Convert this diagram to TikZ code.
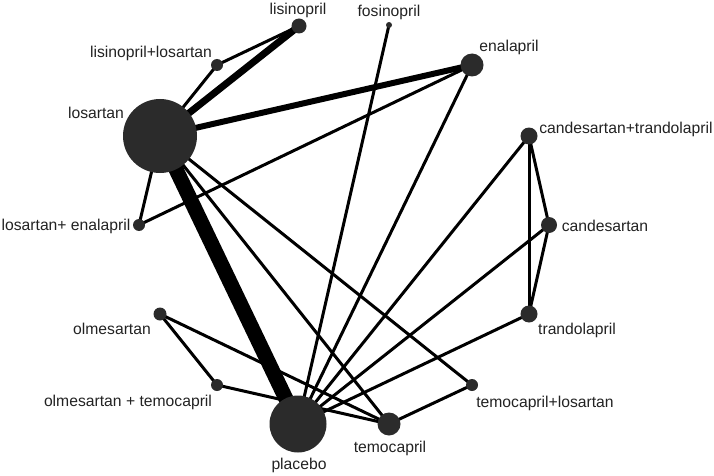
\documentclass[tikz,border=0pt]{standalone}
\usepackage{fontspec}
\setmainfont{Liberation Sans}
\usetikzlibrary{backgrounds}
\definecolor{nodegray}{HTML}{2B2B2B}
\definecolor{txtgray}{HTML}{222222}
\tikzset{
  dot/.style={circle, fill=nodegray, draw=none, inner sep=0pt, minimum size=#1},
  lbl/.style={text=txtgray, inner sep=0pt, font=\fontsize{15.7}{18}\selectfont},
  thinedge/.style={line width=3pt, black},
  midedge/.style={line width=6pt, black},
  fatedge/.style={line width=7pt, black},
  hugeedge/.style={line width=15pt, black}
}
\begin{document}
\begin{tikzpicture}[x=1pt,y=-1pt]
\useasboundingbox (0,0) rectangle (714,476);
% nodes
\node[dot=15pt] (lis) at (299,26) {};
\node[dot=6pt] (fos) at (389,25) {};
\node[dot=23pt] (ena) at (472,65) {};
\node[dot=12pt] (lislos) at (217,65) {};
\node[dot=74pt] (los) at (160,136) {};
\node[dot=17pt] (candtr) at (529,136) {};
\node[dot=16pt] (cand) at (549,225) {};
\node[dot=17pt] (tran) at (529,314) {};
\node[dot=12pt] (losena) at (139,225) {};
\node[dot=13pt] (olm) at (160,314) {};
\node[dot=12pt] (olmtem) at (217,385) {};
\node[dot=57pt] (pla) at (298,424) {};
\node[dot=23pt] (tem) at (389,424) {};
\node[dot=12pt] (temlos) at (472,385) {};
% labels
\node[lbl] (llis) at (298,10) {lisinopril};
\node[lbl] (lfos) at (389,12) {fosinopril};
\node[lbl] (lena) at (509,47) {enalapril};
\node[lbl] (llislos) at (151,53) {lisinopril+losartan};
\node[lbl] (llos) at (96,113) {losartan};
\node[lbl] (lcandtr) at (626,129) {candesartan+trandolapril};
\node[lbl] (lcand) at (605,226) {candesartan};
\node[lbl] (ltran) at (577,330) {trandolapril};
\node[lbl] (llosena) at (66,226) {losartan+ enalapril};
\node[lbl] (lolm) at (112,329) {olmesartan};
\node[lbl] (lolmtem) at (128,402) {olmesartan + temocapril};
\node[lbl] (lpla) at (299,465) {placebo};
\node[lbl] (ltem) at (390,448) {temocapril};
\node[lbl] (ltemlos) at (545,403) {temocapril+losartan};
% edges
\begin{scope}[on background layer]
\draw[hugeedge] (los.center) -- (pla.center);
\draw[fatedge] (los.center) -- (lis.center);
\draw[midedge] (los.center) -- (ena.center);
\draw[thinedge] (lis.center) -- (lislos.center);
\draw[thinedge] (lislos.center) -- (los.center);
\draw[thinedge] (los.center) -- (losena.center);
\draw[thinedge] (losena.center) -- (ena.center);
\draw[thinedge] (los.center) -- (tem.center);
\draw[thinedge] (los.center) -- (temlos.center);
\draw[thinedge] (fos.center) -- (pla.center);
\draw[thinedge] (ena.center) -- (pla.center);
\draw[thinedge] (candtr.center) -- (pla.center);
\draw[thinedge] (cand.center) -- (pla.center);
\draw[thinedge] (tran.center) -- (pla.center);
\draw[thinedge] (candtr.center) -- (cand.center);
\draw[thinedge] (candtr.center) -- (tran.center);
\draw[thinedge] (cand.center) -- (tran.center);
\draw[thinedge] (olm.center) -- (olmtem.center);
\draw[thinedge] (olm.center) -- (tem.center);
\draw[thinedge] (olmtem.center) -- (tem.center);
\draw[thinedge] (tem.center) -- (temlos.center);
\end{scope}
\end{tikzpicture}
\end{document}
